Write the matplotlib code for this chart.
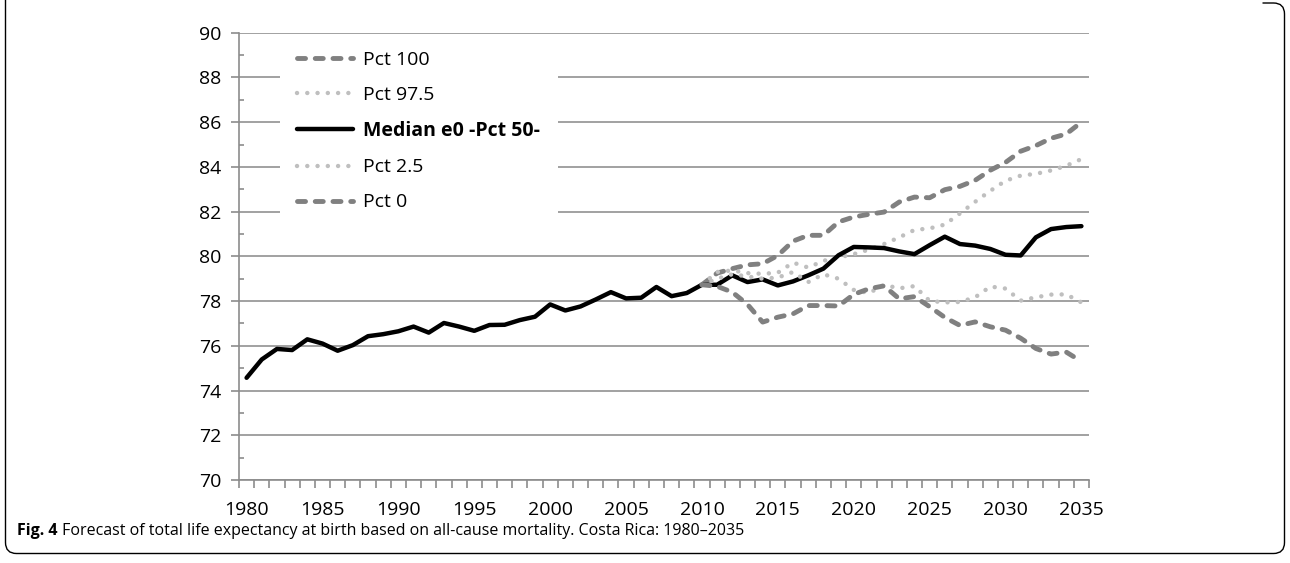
import matplotlib
matplotlib.use('Agg')
import matplotlib.pyplot as plt
from matplotlib.patches import PathPatch, Rectangle
from matplotlib.path import Path
from matplotlib.ticker import FixedLocator
from matplotlib.transforms import IdentityTransform

plt.rcParams['font.family'] = ['Open Sans', 'DejaVu Sans']

# ---------------- data ----------------
years = list(range(1980, 2036))
median = [74.57, 75.39, 75.86, 75.81, 76.29, 76.10, 75.78, 76.03, 76.43, 76.52,
          76.65, 76.86, 76.59, 77.02, 76.86, 76.67, 76.93, 76.94, 77.15, 77.30,
          77.85, 77.58, 77.76, 78.07, 78.40, 78.12, 78.15, 78.63, 78.22, 78.36,
          78.73, 78.73, 79.15, 78.85, 78.97, 78.70, 78.88, 79.15, 79.45, 80.05,
          80.42, 80.40, 80.37, 80.22, 80.10, 80.50, 80.88, 80.55, 80.48, 80.33,
          80.07, 80.04, 80.85, 81.22, 81.31, 81.35]

fc_years = list(range(2010, 2036))
pct100 = [78.73, 79.25, 79.45, 79.62, 79.67, 80.04, 80.68, 80.94, 80.94, 81.54,
          81.76, 81.88, 81.98, 82.43, 82.65, 82.62, 82.98, 83.13, 83.40, 83.85,
          84.20, 84.70, 84.95, 85.28, 85.47, 86.00]
pct975 = [78.73, 79.30, 79.37, 79.25, 79.22, 79.27, 79.72, 79.50, 79.80, 79.95,
          80.10, 80.30, 80.55, 80.85, 81.18, 81.25, 81.42, 81.92, 82.44, 82.93,
          83.38, 83.61, 83.69, 83.84, 84.05, 84.35]
pct25 = [78.73, 79.00, 79.20, 79.10, 79.00, 79.05, 79.30, 78.85, 79.20, 79.00,
         78.50, 78.36, 78.72, 78.57, 78.67, 78.01, 77.94, 77.96, 78.17, 78.65,
         78.56, 78.02, 78.17, 78.29, 78.30, 77.94]
pct0 = [78.73, 78.66, 78.40, 77.85, 77.06, 77.28, 77.43, 77.80, 77.80, 77.78,
        78.30, 78.55, 78.68, 78.10, 78.20, 77.75, 77.27, 76.91, 77.07, 76.85,
        76.70, 76.34, 75.88, 75.63, 75.72, 75.30]

xtick_years = [1980, 1985, 1990, 1995, 2000, 2005, 2010, 2015, 2020, 2025, 2030, 2035]
y_major = [70, 72, 74, 76, 78, 80, 82, 84, 86, 88, 90]
y_minor = [71, 73, 75, 77, 79, 81, 83, 85, 87, 89]
caption_bold = "Fig. 4"
caption_rest = " Forecast of total life expectancy at birth based on all-cause mortality. Costa Rica: 1980\u20132035"

# ---------------- figure ----------------
W, H = 1290, 563
fig = plt.figure(figsize=(W / 100, H / 100), dpi=100)
ax = fig.add_axes([239 / W, 1 - 480 / H, (1089 - 239) / W, (480 - 32.7) / H])

DASH_C = '#808080'
DOT_C = '#bfbfbf'
GRID_C = '#9a9a9a'

l100, = ax.plot(fc_years, pct100, color=DASH_C, lw=3.5, dashes=(1.65, 2.0),
                dash_capstyle='round', dash_joinstyle='round', label='Pct 100', zorder=3)
l975, = ax.plot(fc_years, pct975, color=DOT_C, lw=3.2, dashes=(0.01, 2.3),
                dash_capstyle='round', label='Pct 97.5', zorder=4)
lmed, = ax.plot(years, median, color='black', lw=3.2, solid_capstyle='round',
                solid_joinstyle='round', label='Median e0 -Pct 50-', zorder=5)
l25, = ax.plot(fc_years, pct25, color=DOT_C, lw=3.2, dashes=(0.01, 2.3),
               dash_capstyle='round', label='Pct 2.5', zorder=6)
l0, = ax.plot(fc_years, pct0, color=DASH_C, lw=3.5, dashes=(1.65, 2.0),
              dash_capstyle='round', dash_joinstyle='round', label='Pct 0', zorder=7)

ax.set_xlim(1979.5, 2035.5)
ax.set_ylim(70, 90)

for s in ['top', 'right']:
    ax.spines[s].set_visible(False)
for s in ['left', 'bottom']:
    ax.spines[s].set_color('#8c8c8c')
    ax.spines[s].set_linewidth(1.2)

ax.yaxis.set_major_locator(FixedLocator(y_major))
ax.yaxis.set_minor_locator(FixedLocator(y_minor))
ax.set_yticklabels([str(v) for v in y_major])
ax.tick_params(axis='y', which='major', direction='out', length=5.5, width=1.2,
               color='#8c8c8c', pad=7, labelsize=14, labelcolor='black')
ax.tick_params(axis='y', which='minor', direction='in', length=3.6, width=1.2,
               color='#8c8c8c')

ax.xaxis.set_major_locator(FixedLocator(xtick_years))
ax.set_xticklabels([str(y) for y in xtick_years])
ax.xaxis.set_minor_locator(FixedLocator([1979.5 + i for i in range(57)]))
ax.tick_params(axis='x', which='major', length=0, pad=15, labelsize=14, labelcolor='black')
ax.tick_params(axis='x', which='minor', direction='out', length=5.5, width=1.2,
               color='#8c8c8c')

ax.yaxis.grid(True, which='major', color=GRID_C, lw=1.3)
ax.set_axisbelow(True)

# white area behind the legend (hides gridlines there)
ax.add_patch(Rectangle((280 / W, 1 - 218 / H), (558 - 280) / W, (218 - 40) / H,
                       transform=fig.transFigure, facecolor='white', edgecolor='none',
                       zorder=1))

leg = ax.legend(handles=[l100, l975, lmed, l25, l0], loc='upper left',
                bbox_to_anchor=(297 / W, 1 - 51 / H), bbox_transform=fig.transFigure,
                frameon=False, fontsize=14, handlelength=2.9, handletextpad=0.5,
                labelspacing=0.88, borderpad=0, borderaxespad=0)
leg.set_zorder(10)
leg.get_texts()[2].set_fontweight('bold')

# caption
t1 = fig.text(17 / W, 1 - 531 / H, caption_bold, fontsize=11.5, fontweight='bold',
              va='center', ha='left')
ax.annotate(caption_rest, xy=(1, 0), xycoords=t1, va='bottom', ha='left',
            fontsize=11.5, annotation_clip=False)

# outer frame (open at the top), pixel coordinates, origin bottom-left
L, R, B, T, r = 5.5, 1284.5, H - 553.5, H + 1, 11
verts = [(L, T), (L, B + r), (L, B), (L + r, B), (R - r, B), (R, B), (R, B + r),
         (R, H - 3 - r), (R, H - 3), (R - r, H - 3), (R - 2 * r, H - 3)]
codes = [Path.MOVETO, Path.LINETO, Path.CURVE3, Path.CURVE3, Path.LINETO, Path.CURVE3,
         Path.CURVE3, Path.LINETO, Path.CURVE3, Path.CURVE3, Path.LINETO]
fig.add_artist(PathPatch(Path(verts, codes), transform=IdentityTransform(), fill=False,
                         edgecolor='black', lw=1.0))

fig.savefig('out.png', dpi=100)
